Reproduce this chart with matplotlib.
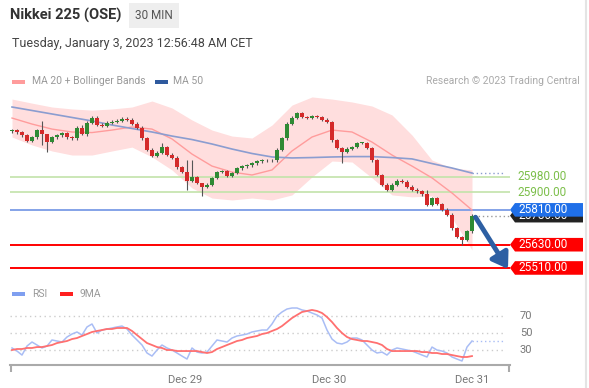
import numpy as np
import matplotlib
matplotlib.use("Agg")
import matplotlib.pyplot as plt
from matplotlib.patches import Polygon, Rectangle
from matplotlib.transforms import blended_transform_factory

plt.rcParams['font.family'] = ['Roboto', 'DejaVu Sans']

# ---- data (30 min candles) ----
closes = [26220, 26210, 26195, 26165, 26185, 26220, 26200, 26160, 26185, 26195,
          26205, 26185, 26180, 26235, 26200, 26260, 26285, 26250, 26245, 26260,
          26265, 26270, 26280, 26275, 26255, 26235, 26180, 26120, 26090, 26105,
          26135, 26095, 26080, 26030, 26005, 25960, 25980, 25950, 25930, 25940,
          25975, 26005, 26010, 25985, 26000, 26025, 26035, 26040, 26050, 26060,
          26065, 26065, 26065, 26120, 26180, 26255, 26285, 26310, 26290, 26285,
          26295, 26290, 26275, 26265, 26170, 26130, 26110, 26125, 26135, 26155,
          26155, 26130, 26065, 25990, 25940, 25915, 25940, 25960, 25955, 25930,
          25915, 25905, 25890, 25835, 25870, 25840, 25810, 25785, 25715, 25670,
          25655, 25700, 25780]
first_open = 26215
# long wicks (index: (high, low)), other candles get a short wick
long_wicks = {6: (26270, 26145), 7: (26185, 26110), 14: (26248, 26195),
              30: (26155, 26100), 35: (26067, 25913), 36: (26067, 25955),
              38: (25950, 25880), 64: (26270, 26160), 66: (26135, 26052),
              83: (25913, 25830), 90: (25675, 25630)}
short_wick = 7

# overlays sampled every 4 candles
ov_idx = list(range(0, 93, 4))
ma20 = [26284, 26253, 26227, 26212, 26209, 26222, 26238, 26227, 26176, 26098, 26036, 26005,
        25990, 26016, 26114, 26186, 26222, 26212, 26160, 26093, 26036, 25975, 25897, 25809]
bb_upper = [26382, 26361, 26341, 26331, 26325, 26331, 26341, 26372, 26336, 26274, 26222, 26191,
            26181, 26248, 26351, 26393, 26382, 26367, 26346, 26300, 26196, 26067, 26026, 26016]
bb_lower = [26186, 26145, 26114, 26093, 26093, 26114, 26134, 26083, 26016, 25923, 25871, 25861,
            25871, 25861, 25887, 25980, 26062, 26057, 25975, 25887, 25877, 25882, 25768, 25603]
ma50 = [26341, 26323, 26305, 26287, 26269, 26248, 26230, 26212, 26191, 26173, 26150, 26124,
        26101, 26083, 26078, 26080, 26083, 26085, 26085, 26080, 26073, 26049, 26026, 26000]

rsi = [32.4, 28.8, 24.1, 34.7, 39.4, 35.9, 32.4, 34.7, 41.8, 40.6,
       39.4, 45.3, 48.8, 51.2, 47.6, 57.1, 60.6, 50.0, 53.5, 54.7,
       55.9, 57.1, 58.2, 54.7, 47.6, 41.8, 35.9, 26.5, 22.9, 30.0,
       35.9, 32.4, 30.0, 26.5, 22.9, 19.4, 32.4, 27.6, 26.5, 27.6,
       34.7, 41.8, 40.6, 39.4, 44.1, 46.5, 47.6, 48.8, 51.2, 52.4,
       53.5, 53.5, 60.6, 70.0, 74.7, 78.2, 79.4, 79.4, 77.1, 75.9,
       73.5, 71.2, 67.6, 53.5, 42.9, 38.2, 37.1, 39.4, 44.1, 44.1,
       41.8, 35.9, 30.0, 26.5, 27.6, 24.1, 30.0, 32.4, 31.2, 30.0,
       28.8, 26.5, 24.1, 21.8, 33.5, 30.0, 28.8, 26.5, 21.8, 19.4,
       17.1, 33.5, 40.6]
ma9 = [30.0, 31.2, 31.2, 32.4, 32.4, 33.5, 33.5, 34.7, 35.9, 38.2,
       39.4, 40.6, 42.9, 44.1, 46.5, 48.8, 51.2, 52.4, 53.5, 54.7,
       54.7, 55.9, 55.9, 55.9, 52.4, 47.6, 42.9, 38.2, 35.9, 33.5,
       32.4, 30.0, 30.0, 28.8, 28.8, 28.8, 28.8, 28.8, 27.6, 26.5,
       27.6, 31.2, 33.5, 35.9, 38.2, 40.6, 41.8, 44.1, 45.3, 46.5,
       48.8, 50.0, 52.4, 54.7, 58.2, 62.9, 67.6, 71.2, 74.7, 75.9,
       77.1, 75.9, 73.5, 68.8, 62.9, 55.9, 50.0, 45.3, 42.9, 41.8,
       40.6, 40.6, 39.4, 38.2, 35.9, 31.2, 28.8, 28.8, 28.8, 28.8,
       28.8, 28.8, 27.6, 27.6, 26.5, 26.5, 25.3, 25.3, 24.1, 22.9,
       21.8, 21.8, 22.9]

levels_green = [25980, 25900]
level_blue = 25810
levels_red = [25630, 25510]
last_price = 25780
day_pos = [34.6, 63.4, 92.0]
day_labels = ['Dec 29', 'Dec 30', 'Dec 31']

# ---- colours ----
c_up, c_dn = '#2f8a34', '#d42a2a'
c_band, c_ma20, c_ma50 = '#ffdede', '#ff9c9c', '#8b9dd0'
c_green_ln, c_green_tx = '#c2e3aa', '#7cbf4a'
c_blue_ln, c_blue_box = '#7b9ce6', '#1f6fe8'
c_red = '#ff0000'

W, H = 589, 388
fig = plt.figure(figsize=(W / 100, H / 100), dpi=100)
fig.patch.set_facecolor('white')


def fx(px):
    return px / W


def fy(py):
    return 1 - py / H


# ---- header ----
fig.text(fx(10), fy(15), 'Nikkei 225 (OSE)', fontsize=10.5, fontweight='bold', color='#333333', va='center')
fig.patches.append(Rectangle((fx(129), fy(28)), fx(50), 25 / H, transform=fig.transFigure,
                             facecolor='#eeeeee', edgecolor='none'))
fig.text(fx(154), fy(15.5), '30 MIN', fontsize=8.5, color='#555555', ha='center', va='center')
fig.text(fx(12), fy(44), 'Tuesday, January 3, 2023 12:56:48 AM CET', fontsize=9, color='#444444', va='center')
fig.lines.append(plt.Line2D([fx(586), fx(586)], [0, 1], transform=fig.transFigure, color='#e4e4e4', lw=1.5))

# legends
fig.patches.append(Rectangle((fx(12), fy(84)), fx(13), 4 / H, transform=fig.transFigure, facecolor='#ff9c9c', edgecolor='none'))
fig.text(fx(32), fy(81.5), 'MA 20 + Bollinger Bands', fontsize=7.5, color='#999999', va='center')
fig.patches.append(Rectangle((fx(155), fy(84)), fx(13), 4 / H, transform=fig.transFigure, facecolor='#2f5a9e', edgecolor='none'))
fig.text(fx(173), fy(81.5), 'MA 50', fontsize=7.5, color='#999999', va='center')
fig.text(fx(580), fy(81.5), 'Research © 2023 Trading Central', fontsize=7.5, color='#aaaaaa', va='center', ha='right')

fig.patches.append(Rectangle((fx(12), fy(296)), fx(13), 4 / H, transform=fig.transFigure, facecolor='#7f9ff0', edgecolor='none'))
fig.text(fx(32), fy(294), 'RSI', fontsize=7.5, color='#999999', va='center')
fig.patches.append(Rectangle((fx(60), fy(296)), fx(13), 4 / H, transform=fig.transFigure, facecolor='#ff2020', edgecolor='none'))
fig.text(fx(80), fy(294), '9MA', fontsize=7.5, color='#999999', va='center')

# ---- price panel ----
ax = fig.add_axes([fx(10), fy(285), fx(500), 190 / H])
x_lo, x_hi = -0.4, 99.6
ax.set_xlim(x_lo, x_hi)
ax.set_ylim(25422, 26403)
ax.axis('off')

ax.fill_between(ov_idx, bb_lower, bb_upper, color=c_band, lw=0, zorder=1)
ax.plot(ov_idx, ma20, color=c_ma20, lw=1.0, zorder=2)
ax.plot(ov_idx, ma50, color=c_ma50, lw=1.2, zorder=2)
ax.plot([ov_idx[-1], 98.6], [ma50[-1], ma50[-1]], color=c_ma50, lw=1.0, ls=(0, (1, 2)), zorder=2)

for lv in levels_green:
    ax.axhline(lv, color=c_green_ln, lw=1.2, zorder=1.5)
ax.axhline(level_blue, color=c_blue_ln, lw=1.3, zorder=1.5)
for lv in levels_red:
    ax.axhline(lv, color=c_red, lw=1.4, zorder=1.5)

# candles
idx = np.arange(len(closes))
opens = [first_open] + closes[:-1]
for i, (o, c) in enumerate(zip(opens, closes)):
    hi, lo = long_wicks.get(i, (max(o, c) + short_wick, min(o, c) - short_wick))
    col = c_up if c >= o else c_dn
    ax.vlines(i, lo, hi, color='#555555', lw=0.8, zorder=3)
    ax.bar(i, max(abs(c - o), 3), bottom=min(o, c), width=0.62, color=col, lw=0, zorder=4)

ax.plot([len(closes) - 0.6, 99.6], [last_price, last_price], color='#999999', lw=1.0, ls=(0, (1, 2)), zorder=2)

ax.annotate('', xy=(99.2, 25505), xytext=(92.7, 25772),
            arrowprops=dict(arrowstyle='-|>,head_length=0.9,head_width=0.6', lw=3.5,
                            color='#2d5fa3', shrinkA=0, shrinkB=0),
            annotation_clip=False, zorder=6)

# right side labels
tr = blended_transform_factory(ax.transAxes, ax.transData)
hh = 6.8 * 5.16


def price_box(y, text, face, z):
    x0, x1, x2 = 1.0, (515 - 10) / 500, (583 - 10) / 500
    pts = [(x0, y), (x1, y + hh), (x2, y + hh), (x2, y - hh), (x1, y - hh)]
    ax.add_patch(Polygon(pts, closed=True, transform=tr, facecolor=face, edgecolor='none',
                         clip_on=False, zorder=z))
    ax.text((518 - 10) / 500, y, text, transform=tr, color='white', fontsize=8.5,
            va='center', ha='left', clip_on=False, zorder=z + 0.1)


for lv in levels_green:
    ax.text((517 - 10) / 500, lv, f'{lv:.2f}', transform=tr, color=c_green_tx, fontsize=8.5,
            va='center', ha='left', clip_on=False)
price_box(last_price, f'{last_price:.2f}', '#222222', 7)
price_box(level_blue, f'{level_blue:.2f}', c_blue_box, 8)
for lv in levels_red:
    price_box(lv, f'{lv:.2f}', c_red, 8)

# ---- RSI panel ----
ax2 = fig.add_axes([fx(10), fy(365), fx(500), 65 / H])
ax2.set_xlim(x_lo, x_hi)
ax2.set_ylim(12.4, 88.8)
for s in ['top', 'left', 'right']:
    ax2.spines[s].set_visible(False)
ax2.spines['bottom'].set_color('#aaaaaa')
ax2.spines['bottom'].set_linewidth(1.5)
ax2.set_yticks([])
ax2.set_xticks(day_pos)
ax2.set_xticklabels(day_labels, fontsize=8, color='#777777')
ax2.tick_params(axis='x', which='major', length=0, pad=7)
ax2.set_xticks([x_lo + 0.1, x_hi - 0.3], minor=True)
ax2.tick_params(axis='x', which='minor', length=5, width=1.5, color='#aaaaaa', direction='out')

for lv in [30, 50, 70]:
    ax2.plot([x_lo, 98.6], [lv, lv], color='#cccccc', lw=1.0, ls=(0, (1, 2.5)), zorder=1)
    ax2.text(1.02, lv, str(lv), transform=blended_transform_factory(ax2.transAxes, ax2.transData),
             fontsize=8, color='#777777', va='center', ha='left', clip_on=False)

ax2.plot(idx, rsi, color='#a9bdf5', lw=1.1, zorder=2)
ax2.plot(idx, ma9, color='#ff7070', lw=1.3, zorder=3)
ax2.plot([idx[-1], 98.6], [rsi[-1], rsi[-1]], color='#a9bdf5', lw=1.0, ls=(0, (1, 2)), zorder=2)

fig.savefig('out.png', dpi=100)
